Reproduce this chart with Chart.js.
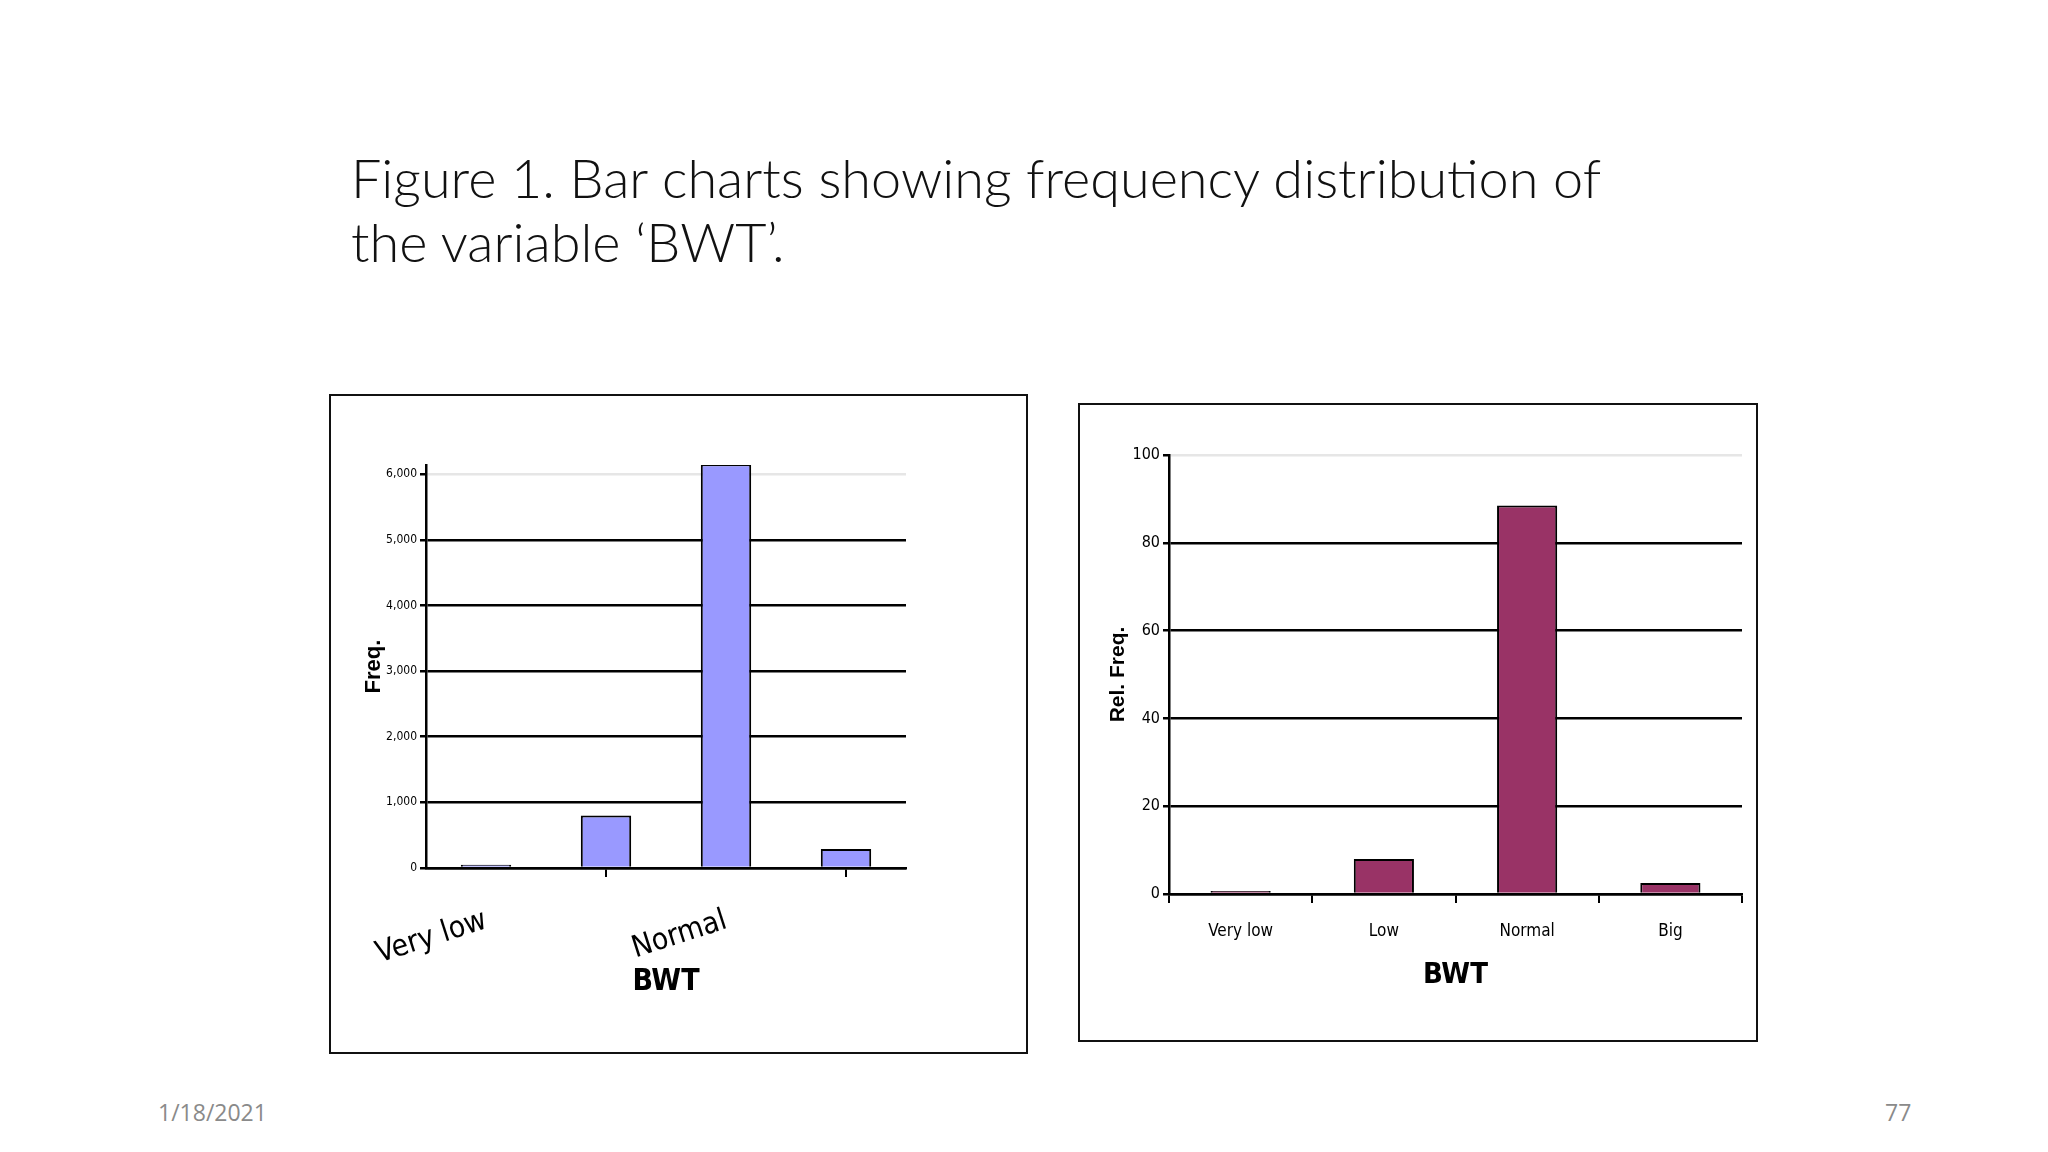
<!DOCTYPE html>
<html><head><meta charset="utf-8">
<script src="https://cdn.jsdelivr.net/npm/chart.js@4.4.0/dist/chart.umd.min.js"></script>
<style>
body{margin:0;width:2048px;height:1152px;background:#fff;position:relative;overflow:hidden;font-family:'Open Sans',sans-serif}
#title{position:absolute;left:351px;top:146px;font-family:Lato,'Open Sans',sans-serif;font-weight:300;font-size:54px;line-height:64px;color:#111}
.box{position:absolute;border:2.5px solid #111;box-sizing:border-box;background:#fff}
.foot{position:absolute;top:1096px;font-family:'Open Sans',sans-serif;font-size:23px;color:#8a8a8a}
</style></head><body>
<div id="title">Figure 1. Bar charts showing frequency distribution of<br>the variable ‘BWT’.</div>
<div class="box" style="left:329px;top:394px;width:699px;height:660px"><canvas id="c1"></canvas></div>
<div class="box" style="left:1078px;top:403px;width:680px;height:639px"><canvas id="c2"></canvas></div>
<div class="foot" style="left:158px">1/18/2021</div>
<div class="foot" style="left:1885px">77</div>
<script>
const categories=['Very low','Low','Normal','Big'];
const freqValues=[50,800,6150,290];
const relFreqValues=[0.7,8,88.5,2.5];
const freqTicks=[0,1000,2000,3000,4000,5000,6000];
const relTicks=[0,20,40,60,80,100];
const narrow="'Liberation Sans Narrow','DejaVu Sans Condensed',Arial,sans-serif";

function make(id,vals,color,ticksArr,yMax,o){
  new Chart(document.getElementById(id),{
    type:'bar',
    data:{labels:categories,datasets:[{data:vals,backgroundColor:color,borderColor:'#000',borderWidth:2,categoryPercentage:1,barPercentage:0.42}]},
    options:{responsive:true,maintainAspectRatio:false,animation:false,
      plugins:{legend:{display:false},tooltip:{enabled:false}},
      layout:{padding:{left:0,top:o.top,right:o.right,bottom:0}},
      scales:{
        x:{grid:{display:true,offset:true,drawOnChartArea:false,color:'#000',lineWidth:2,tickLength:9},
           border:{display:true,color:'#000',width:2.5},
           ticks:{color:'#000',padding:o.xPad,font:{family:narrow,size:o.xFont}},
           title:{display:true,text:'BWT',color:'#000',font:{family:narrow,size:o.tFont,weight:'bold'},padding:{top:o.bwtPad,bottom:o.bwtPad}},
           afterFit:s=>{s.height=o.xH;}},
        y:{min:0,max:yMax,
           afterBuildTicks:s=>{s.ticks=ticksArr.map(v=>({value:v}));},
           grid:{color:c=>c.tick&&c.tick.value===ticksArr[ticksArr.length-1]?'#e6e6e6':'#000',lineWidth:2.5,tickLength:6,tickColor:'#000'},
           border:{display:true,color:'#000',width:2.5},
           ticks:{color:'#000',padding:3,font:{family:narrow,size:o.yFont}},
           title:{display:true,text:o.yTitle,color:'#000',font:{family:'Liberation Sans,Arial,sans-serif',size:o.ytFont,weight:'bold'},padding:{top:o.yPad,bottom:o.yPad}},
           afterFit:s=>{s.width=o.yW;}}
      }}
  });
}
make('c1',freqValues,'#9999ff',freqTicks,6140,{top:69,right:120,xPad:26,xFont:30,tFont:30,bwtPad:52,xH:184,yFont:12,yTitle:'Freq.',ytFont:22,yPad:30,yW:95});
make('c2',relFreqValues,'#993366',relTicks,100,{top:50,right:14,xPad:18,xFont:17,tFont:29,bwtPad:47,xH:146,yFont:16,yTitle:'Rel. Freq.',ytFont:21,yPad:26,yW:89});
</script>
</body></html>
